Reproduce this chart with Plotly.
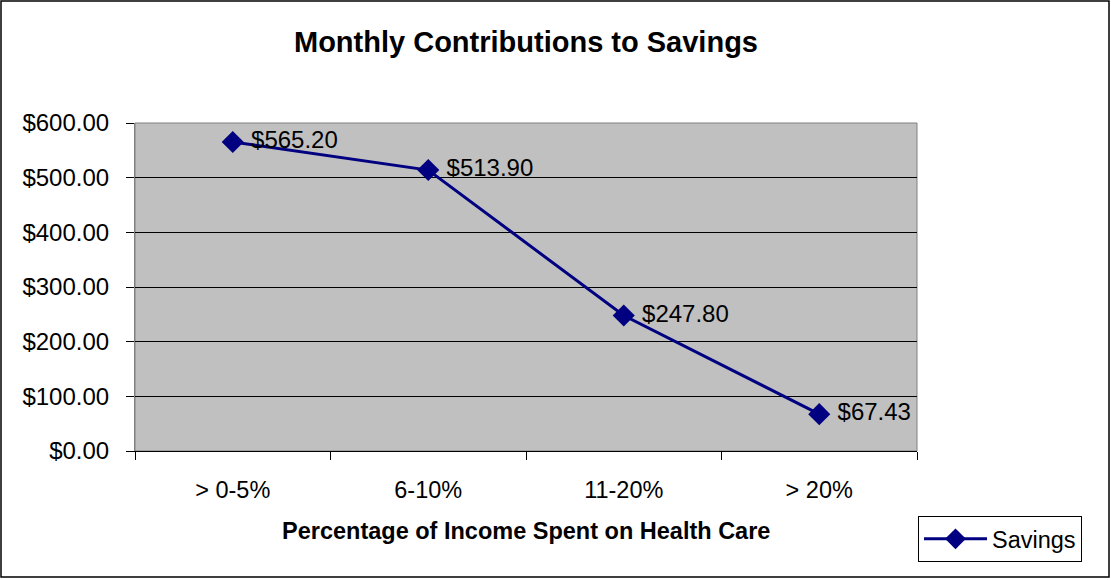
import plotly.graph_objects as go

categories = ["> 0-5%", "6-10%", "11-20%", "> 20%"]
savings = [565.20, 513.90, 247.80, 67.43]
labels = ["$565.20", "$513.90", "$247.80", "$67.43"]
y_ticks = [0, 100, 200, 300, 400, 500, 600]
y_tick_text = ["$0.00", "$100.00", "$200.00", "$300.00", "$400.00", "$500.00", "$600.00"]

FONT = "Liberation Sans, Arial, sans-serif"
L, R, T, B = 135, 917, 123, 451
W, H = 1111, 580
pw, ph = R - L, B - T

fig = go.Figure()
fig.add_trace(go.Scatter(
    x=categories, y=savings, name="Savings",
    mode="lines+markers+text",
    text=[" " + s for s in labels], textposition="middle right",
    textfont=dict(family=FONT, size=24, color="black"),
    line=dict(color="#000080", width=3),
    marker=dict(symbol="diamond", size=17, color="#000080"),
    cliponaxis=False,
))

fig.update_layout(
    width=W, height=H,
    margin=dict(l=L, r=W - R, t=T, b=H - B, autoexpand=False),
    paper_bgcolor="white", plot_bgcolor="#C0C0C0",
    font=dict(family=FONT, size=23, color="black"),
    title=dict(text="<b>Monthly Contributions to Savings</b>",
               x=0.5, xref="paper", y=1 - 42 / H, yref="container", yanchor="middle",
               font=dict(family=FONT, size=29, color="black")),
    showlegend=True,
    legend=dict(x=(918 - L) / pw, y=(B - 516) / ph, xanchor="left", yanchor="top",
                bordercolor="black", borderwidth=1, bgcolor="white",
                font=dict(family=FONT, size=23.5, color="black"),
                itemwidth=63),
    xaxis=dict(type="category", range=[-0.5, 3.5], tickson="boundaries",
               ticks="outside", ticklen=8, tickcolor="black", tickwidth=1,
               showline=True, linecolor="black", linewidth=1,
               showgrid=False, mirror=False, ticklabelstandoff=18,
               tickfont=dict(family=FONT, size=23.5)),
    yaxis=dict(range=[0, 600], tickvals=y_ticks, ticktext=y_tick_text,
               ticks="outside", ticklen=8, tickcolor="black", tickwidth=1,
               showline=True, linecolor="#808080", linewidth=1,
               showgrid=True, gridcolor="black", gridwidth=1, zeroline=False,
               ticklabelstandoff=12, tickfont=dict(family=FONT, size=24)),
    annotations=[dict(text="<b>Percentage of Income Spent on Health Care</b>",
                      x=0.5, xref="paper", y=(B - 531) / ph, yref="paper",
                      xanchor="center", yanchor="middle", showarrow=False,
                      font=dict(family=FONT, size=23.5, color="black"))],
    shapes=[
        dict(type="rect", xref="paper", yref="paper", x0=0, x1=1, y0=0, y1=1,
             line=dict(color="#808080", width=1), layer="below"),
        dict(type="rect", xref="paper", yref="paper",
             x0=(1 - L) / pw, x1=(1109 - L) / pw, y0=(B - 577) / ph, y1=(B - 1) / ph,
             line=dict(color="black", width=1.5)),
    ],
)
fig.write_html("out.html")
